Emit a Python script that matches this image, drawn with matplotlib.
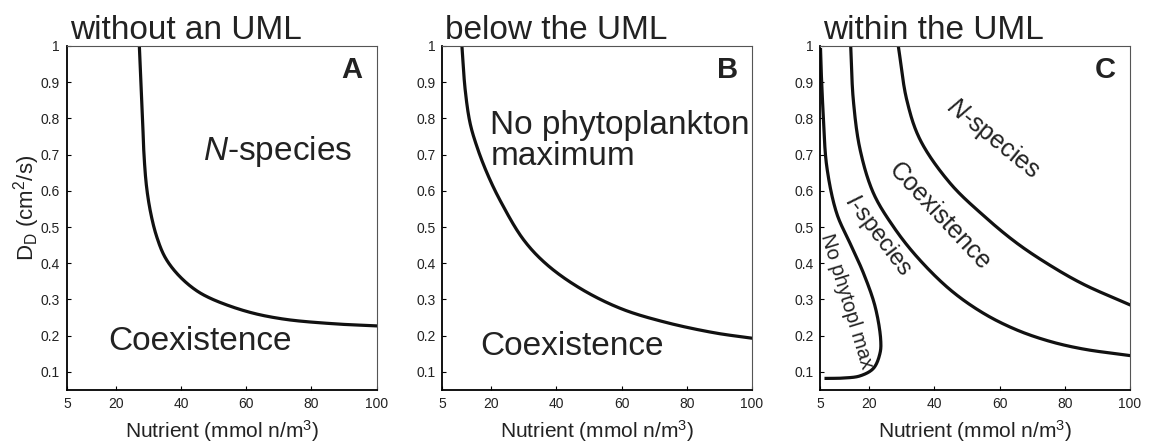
import matplotlib
matplotlib.use('Agg')
import matplotlib.pyplot as plt
import numpy as np

plt.rcParams['font.family'] = ['Liberation Sans', 'DejaVu Sans']
plt.rcParams['mathtext.fontset'] = 'custom'
plt.rcParams['mathtext.rm'] = 'Liberation Sans'
plt.rcParams['mathtext.it'] = 'Liberation Sans:italic'

# regime boundaries: nutrient (mmol n/m3) vs D_D (cm2/s)
a_nut = [27.2, 28.2, 28.6, 29.4, 30.7, 32.5, 35.0, 38.6, 43.7, 48.8, 60.1, 71.3, 86.6, 100]
a_dd = [1.0, 0.796, 0.704, 0.612, 0.538, 0.474, 0.418, 0.373, 0.331, 0.304, 0.267, 0.246, 0.233, 0.227]

b_nut = [11.0, 12.0, 13.5, 15.6, 18.7, 22.8, 29.9, 37.1, 47.4, 59.7, 73.0, 88.4, 100]
b_dd = [1.0, 0.879, 0.787, 0.722, 0.649, 0.572, 0.465, 0.396, 0.330, 0.275, 0.238, 0.208, 0.193]

c1_nut = [5.05, 5.2, 5.9, 6.96, 10.0, 14.1, 18.2, 21.8, 23.5, 23.3, 21.3, 17.2, 12.1, 6.75]
c1_dd = [0.99, 0.943, 0.805, 0.667, 0.538, 0.455, 0.373, 0.28, 0.189, 0.152, 0.11, 0.089, 0.083, 0.082]

c2_nut = [14.3, 15.1, 17.2, 21.3, 27.4, 34.6, 44.8, 55.0, 65.2, 75.5, 85.7, 100]
c2_dd = [1.0, 0.851, 0.713, 0.593, 0.501, 0.418, 0.327, 0.262, 0.216, 0.184, 0.163, 0.145]

c3_nut = [28.9, 31.5, 35.6, 44.8, 55.0, 65.2, 75.5, 85.7, 100]
c3_dd = [1.0, 0.851, 0.741, 0.621, 0.532, 0.456, 0.394, 0.342, 0.285]

titles = ['without an UML', 'below the UML', 'within the UML']
letters = ['A', 'B', 'C']
xticks = [5, 20, 40, 60, 80, 100]
yticks = [0.1, 0.2, 0.3, 0.4, 0.5, 0.6, 0.7, 0.8, 0.9, 1]
yticklabels = ['0.1', '0.2', '0.3', '0.4', '0.5', '0.6', '0.7', '0.8', '0.9', '1']


def smooth(xs, ys, steps=40):
    # centripetal Catmull-Rom, knots spaced on the drawn aspect of a panel
    sx, sy = 310.0 / 95.0, 362.0
    P = np.column_stack([np.array(xs, float) * sx, np.array(ys, float) * sy])
    P = np.vstack([2*P[0] - P[1], P, 2*P[-1] - P[-2]])
    out = []
    for i in range(1, len(P) - 2):
        p0, p1, p2, p3 = P[i-1], P[i], P[i+1], P[i+2]
        t0 = 0.0
        t1 = t0 + np.linalg.norm(p1 - p0) ** 0.5
        t2 = t1 + np.linalg.norm(p2 - p1) ** 0.5
        t3 = t2 + np.linalg.norm(p3 - p2) ** 0.5
        t = np.linspace(t1, t2, steps, endpoint=False)[:, None]
        a1 = (t1 - t) / (t1 - t0) * p0 + (t - t0) / (t1 - t0) * p1
        a2 = (t2 - t) / (t2 - t1) * p1 + (t - t1) / (t2 - t1) * p2
        a3 = (t3 - t) / (t3 - t2) * p2 + (t - t2) / (t3 - t2) * p3
        b1 = (t2 - t) / (t2 - t0) * a1 + (t - t0) / (t2 - t0) * a2
        b2 = (t3 - t) / (t3 - t1) * a2 + (t - t1) / (t3 - t1) * a3
        c = (t2 - t) / (t2 - t1) * b1 + (t - t1) / (t2 - t1) * b2
        out.append(c)
    out.append(P[-2][None, :])
    out = np.vstack(out)
    return out[:, 0] / sx, out[:, 1] / sy


fig = plt.figure(figsize=(11.49, 4.46), dpi=100)
lefts = [0.0583, 0.385, 0.714]
axes = [fig.add_axes([l, 0.1256, 0.2695, 0.7713]) for l in lefts]

for ax, title, letter in zip(axes, titles, letters):
    ax.set_xlim(5, 100)
    ax.set_ylim(0.05, 1)
    ax.set_xticks(xticks)
    ax.set_yticks(yticks)
    ax.set_yticklabels(yticklabels)
    ax.tick_params(direction='in', length=3, labelsize=10, top=False, right=False,
                   width=0.8, pad=5, labelcolor='#222222')
    for s in ['left', 'bottom']:
        ax.spines[s].set_linewidth(1.3)
        ax.spines[s].set_color('black')
    for s in ['top', 'right']:
        ax.spines[s].set_linewidth(0.8)
        ax.spines[s].set_color('#555555')
    ax.set_xlabel('Nutrient (mmol n/m$^3$)', fontsize=15, labelpad=5, color='#222222')
    ax.set_title(title, loc='left', fontsize=24, pad=1, x=0.01, color='#222222')
    ax.text(0.955, 0.93, letter, transform=ax.transAxes, fontsize=21,
            fontweight='bold', ha='right', va='center', color='#222222')

axes[0].set_ylabel('D$_\\mathrm{D}$ (cm$^2$/s)', fontsize=16, color='#222222')
axes[0].yaxis.set_label_coords(-0.08, 0.53)

lw = 2.3
lc = '#111111'
tc = '#222222'
x, y = smooth(a_nut, a_dd)
axes[0].plot(x, y, color=lc, lw=lw)
axes[0].text(46.7, 0.708, '$N$-species', fontsize=24, va='center', color=tc)
axes[0].text(17.6, 0.184, 'Coexistence', fontsize=24, va='center', color=tc)

x, y = smooth(b_nut, b_dd)
axes[1].plot(x, y, color=lc, lw=lw)
axes[1].text(19.7, 0.738, 'No phytoplankton\nmaximum', fontsize=24, va='center',
             linespacing=1.0, color=tc)
axes[1].text(16.6, 0.169, 'Coexistence', fontsize=24, va='center', color=tc)

ax = axes[2]
for xs, ys in [(c1_nut, c1_dd), (c2_nut, c2_dd), (c3_nut, c3_dd)]:
    x, y = smooth(xs, ys)
    ax.plot(x, y, color=lc, lw=lw)
ax.text(58.0, 0.746, '$N$-species', fontsize=18, rotation=-39,
        rotation_mode='anchor', ha='center', va='center', color=tc)
ax.text(41.7, 0.529, 'Coexistence', fontsize=18, rotation=-47,
        rotation_mode='anchor', ha='center', va='center', color=tc)
ax.text(22.8, 0.478, '$I$-species', fontsize=17, rotation=-53,
        rotation_mode='anchor', ha='center', va='center', color=tc)
ax.text(12.9, 0.294, 'No phytopl max', fontsize=14.5, rotation=-73,
        rotation_mode='anchor', ha='center', va='center', color=tc)

fig.savefig('out.png', dpi=100)
